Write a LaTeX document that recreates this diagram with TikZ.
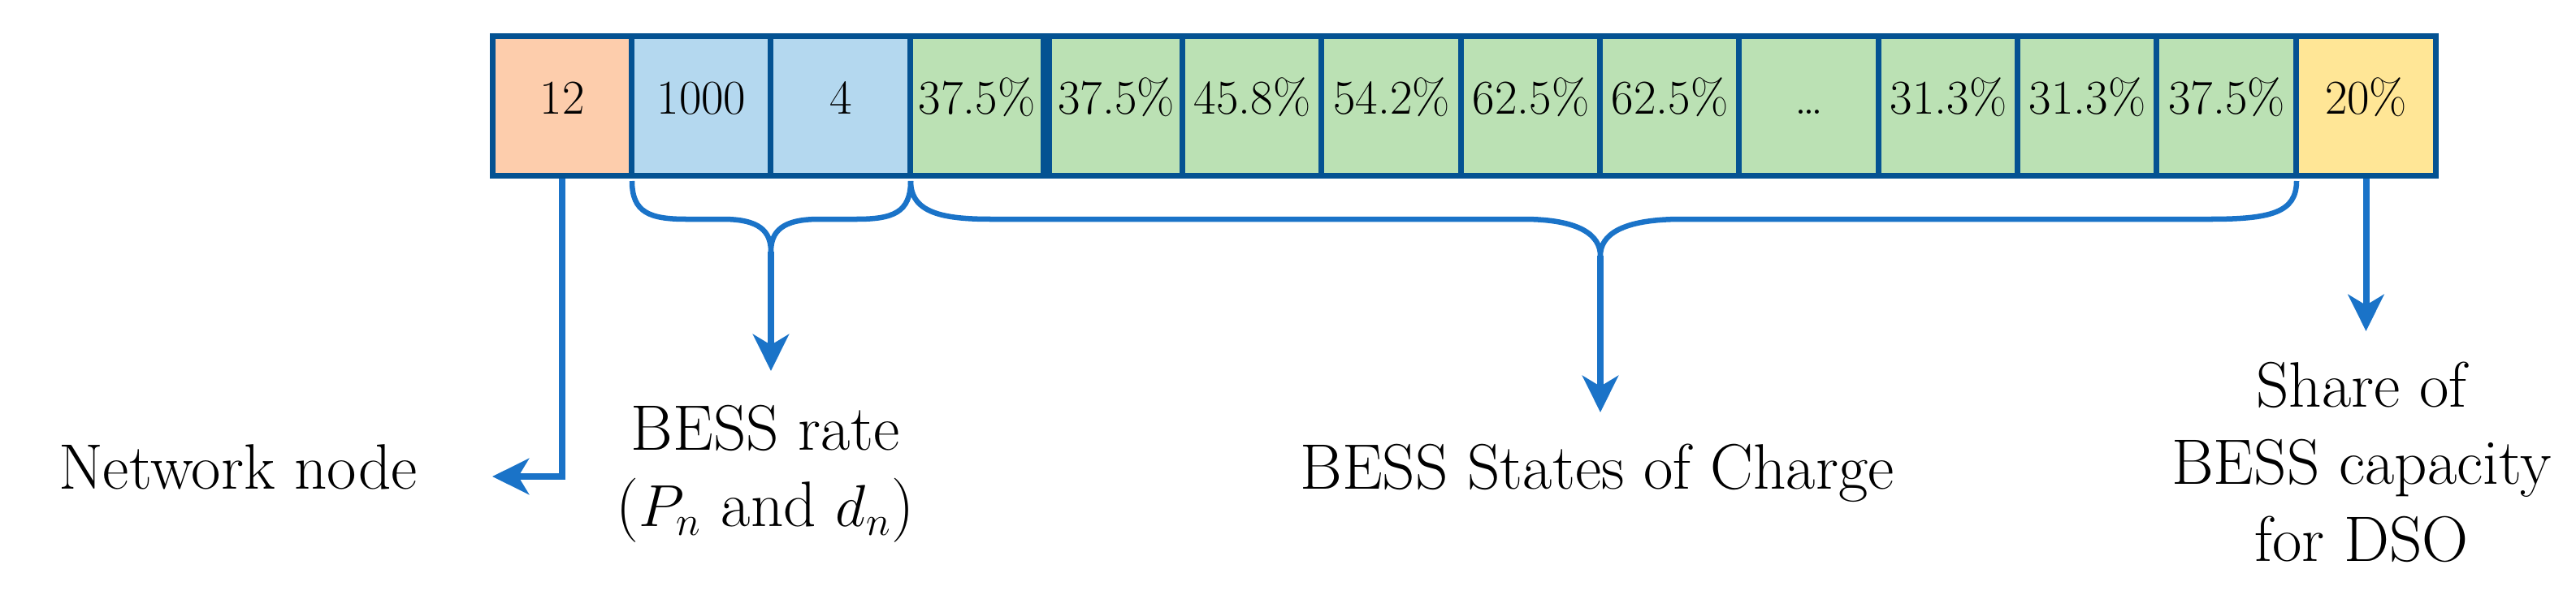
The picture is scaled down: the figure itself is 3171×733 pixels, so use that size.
\documentclass[tikz,border=0pt]{standalone}
\usetikzlibrary{arrows.meta}
\definecolor{bordc}{RGB}{4,82,146}
\definecolor{orangec}{RGB}{253,205,172}
\definecolor{bluec}{RGB}{180,216,239}
\definecolor{greenc}{RGB}{187,225,180}
\definecolor{yellowc}{RGB}{255,230,150}
\definecolor{arrc}{RGB}{26,115,200}
\begin{document}
\begin{tikzpicture}[x=0.01cm,y=-0.01cm,
  cell/.style={draw=bordc, line width=0.07cm, minimum height=1.72cm, inner sep=0pt,
    font=\fontsize{17}{20}\selectfont, text height=0.45cm, text depth=0.254cm},
  lbl/.style={font=\fontsize{22.5}{27}\selectfont, inner sep=0pt, align=center},
  conn/.style={draw=arrc, line width=0.08cm, -{Stealth[length=0.45cm,width=0.44cm,inset=0.13cm]}},
  bracepath/.style={draw=arrc, line width=0.065cm},
]
\useasboundingbox (0,0) rectangle (3171,733);
% cells
\node[cell, fill=orangec, minimum width=1.715cm] (c1)  at (692.25,130.5) {12};
\node[cell, fill=bluec,   minimum width=1.71cm]  (c2)  at (863.5,130.5) {1000};
\node[cell, fill=bluec,   minimum width=1.72cm]  (c3)  at (1035,130.5) {4};
\node[cell, fill=greenc,  minimum width=1.63cm]  (c4)  at (1202.5,130.5) {37.5\%};
\node[cell, fill=greenc,  minimum width=1.64cm]  (c5)  at (1374,130.5) {37.5\%};
\node[cell, fill=greenc,  minimum width=1.71cm]  (c6)  at (1541.5,130.5) {45.8\%};
\node[cell, fill=greenc,  minimum width=1.72cm]  (c7)  at (1713,130.5) {54.2\%};
\node[cell, fill=greenc,  minimum width=1.71cm]  (c8)  at (1884.5,130.5) {62.5\%};
\node[cell, fill=greenc,  minimum width=1.71cm]  (c9)  at (2055.5,130.5) {62.5\%};
\node[cell, fill=greenc,  minimum width=1.72cm]  (c10) at (2227,130.5) {\dots};
\node[cell, fill=greenc,  minimum width=1.71cm]  (c11) at (2398.5,130.5) {31.3\%};
\node[cell, fill=greenc,  minimum width=1.71cm]  (c12) at (2569.5,130.5) {31.3\%};
\node[cell, fill=greenc,  minimum width=1.72cm]  (c13) at (2741,130.5) {37.5\%};
\node[cell, fill=yellowc, minimum width=1.71cm]  (c14) at (2912.5,130.5) {20\%};
% labels
\node[lbl, anchor=base]  (net)   at (293,602)  {Network node};
\node[lbl, anchor=north] (rate)  at (942,498)  {BESS rate\\($P_n$ and $d_n$)};
\node[lbl, anchor=base]  (soc)   at (1966,602) {BESS States of Charge};
\node[lbl, anchor=north] (share) at (2907,445) {Share of\\BESS capacity\\for DSO};
% coordinates
\coordinate (b1l) at (778,223);
\coordinate (b1r) at (1121,223);
\coordinate (t1) at (949,310);
\coordinate (b2l) at (1121,223);
\coordinate (b2r) at (2827,223);
\coordinate (t2) at (1970,315);
\coordinate (netend) at (606,587);
\coordinate (rateend) at (949,457);
\coordinate (socend) at (1970,508);
\coordinate (shareend) at (2912.5,408);
% braces
\draw[bracepath] (b1l) .. controls (778,262) and (800,270) .. (845,270) -- (890,270)
  .. controls (935,270) and (949,285) .. (t1)
  .. controls (949,285) and (963,270) .. (1008,270) -- (1054,270)
  .. controls (1099,270) and (1121,262) .. (b1r);
\draw[bracepath] (b2l) .. controls (1121,262) and (1160,270) .. (1220,270) -- (1875,270)
  .. controls (1945,270) and (1970,290) .. (t2)
  .. controls (1970,290) and (1995,270) .. (2070,270) -- (2720,270)
  .. controls (2795,270) and (2827,262) .. (b2r);
% connectors
\draw[conn] (c1.south) |- (netend);
\draw[conn] (t1) -- (rateend);
\draw[conn] (t2) -- (socend);
\draw[conn] (c14.south) -- (shareend);
\end{tikzpicture}
\end{document}
